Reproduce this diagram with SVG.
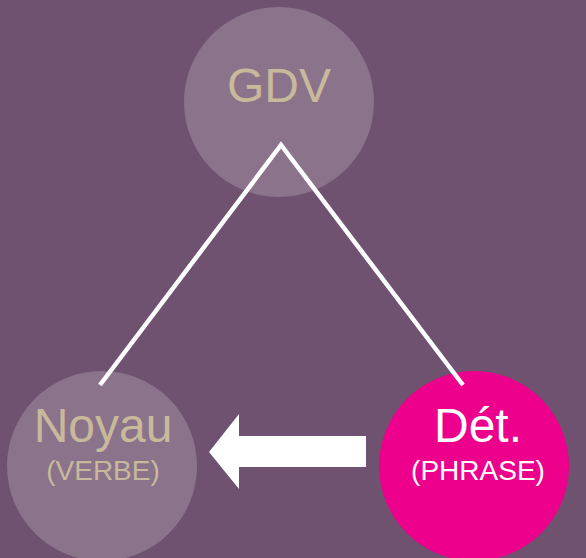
<svg xmlns="http://www.w3.org/2000/svg" width="586" height="558" viewBox="0 0 586 558">
<style>
.t{font-family:"Liberation Sans",Arial,sans-serif;text-anchor:middle}
.big{font-size:48px}
.sm{font-size:28px}
.tan{fill:#c9b99b}
.wh{fill:#ffffff}
.pale{fill:#8b738c}
.conn{stroke:#ffffff;stroke-width:4.5;fill:none}
</style>
<rect width="586" height="558" fill="#6f5170"/>
<g id="gdv">
<circle class="pale" cx="279" cy="102" r="95"/>
<text class="t big tan" x="279" y="102">GDV</text>
</g>
<g id="noyau">
<circle class="pale" cx="102" cy="466" r="95"/>
<text class="t big tan" x="103" y="442">Noyau</text>
<text class="t sm tan" x="103" y="480">(VERBE)</text>
</g>
<g id="det">
<circle fill="#ec008c" cx="474" cy="466" r="95"/>
<text class="t big wh" x="478" y="442">Dét.</text>
<text class="t sm wh" x="478" y="480">(PHRASE)</text>
</g>
<g id="connectors">
<polyline class="conn" points="100,385 281,145 463,385"/>
<polygon fill="#ffffff" points="366,436 239,436 239,414 209,452 239,489 239,467 366,467"/>
</g>
</svg>
